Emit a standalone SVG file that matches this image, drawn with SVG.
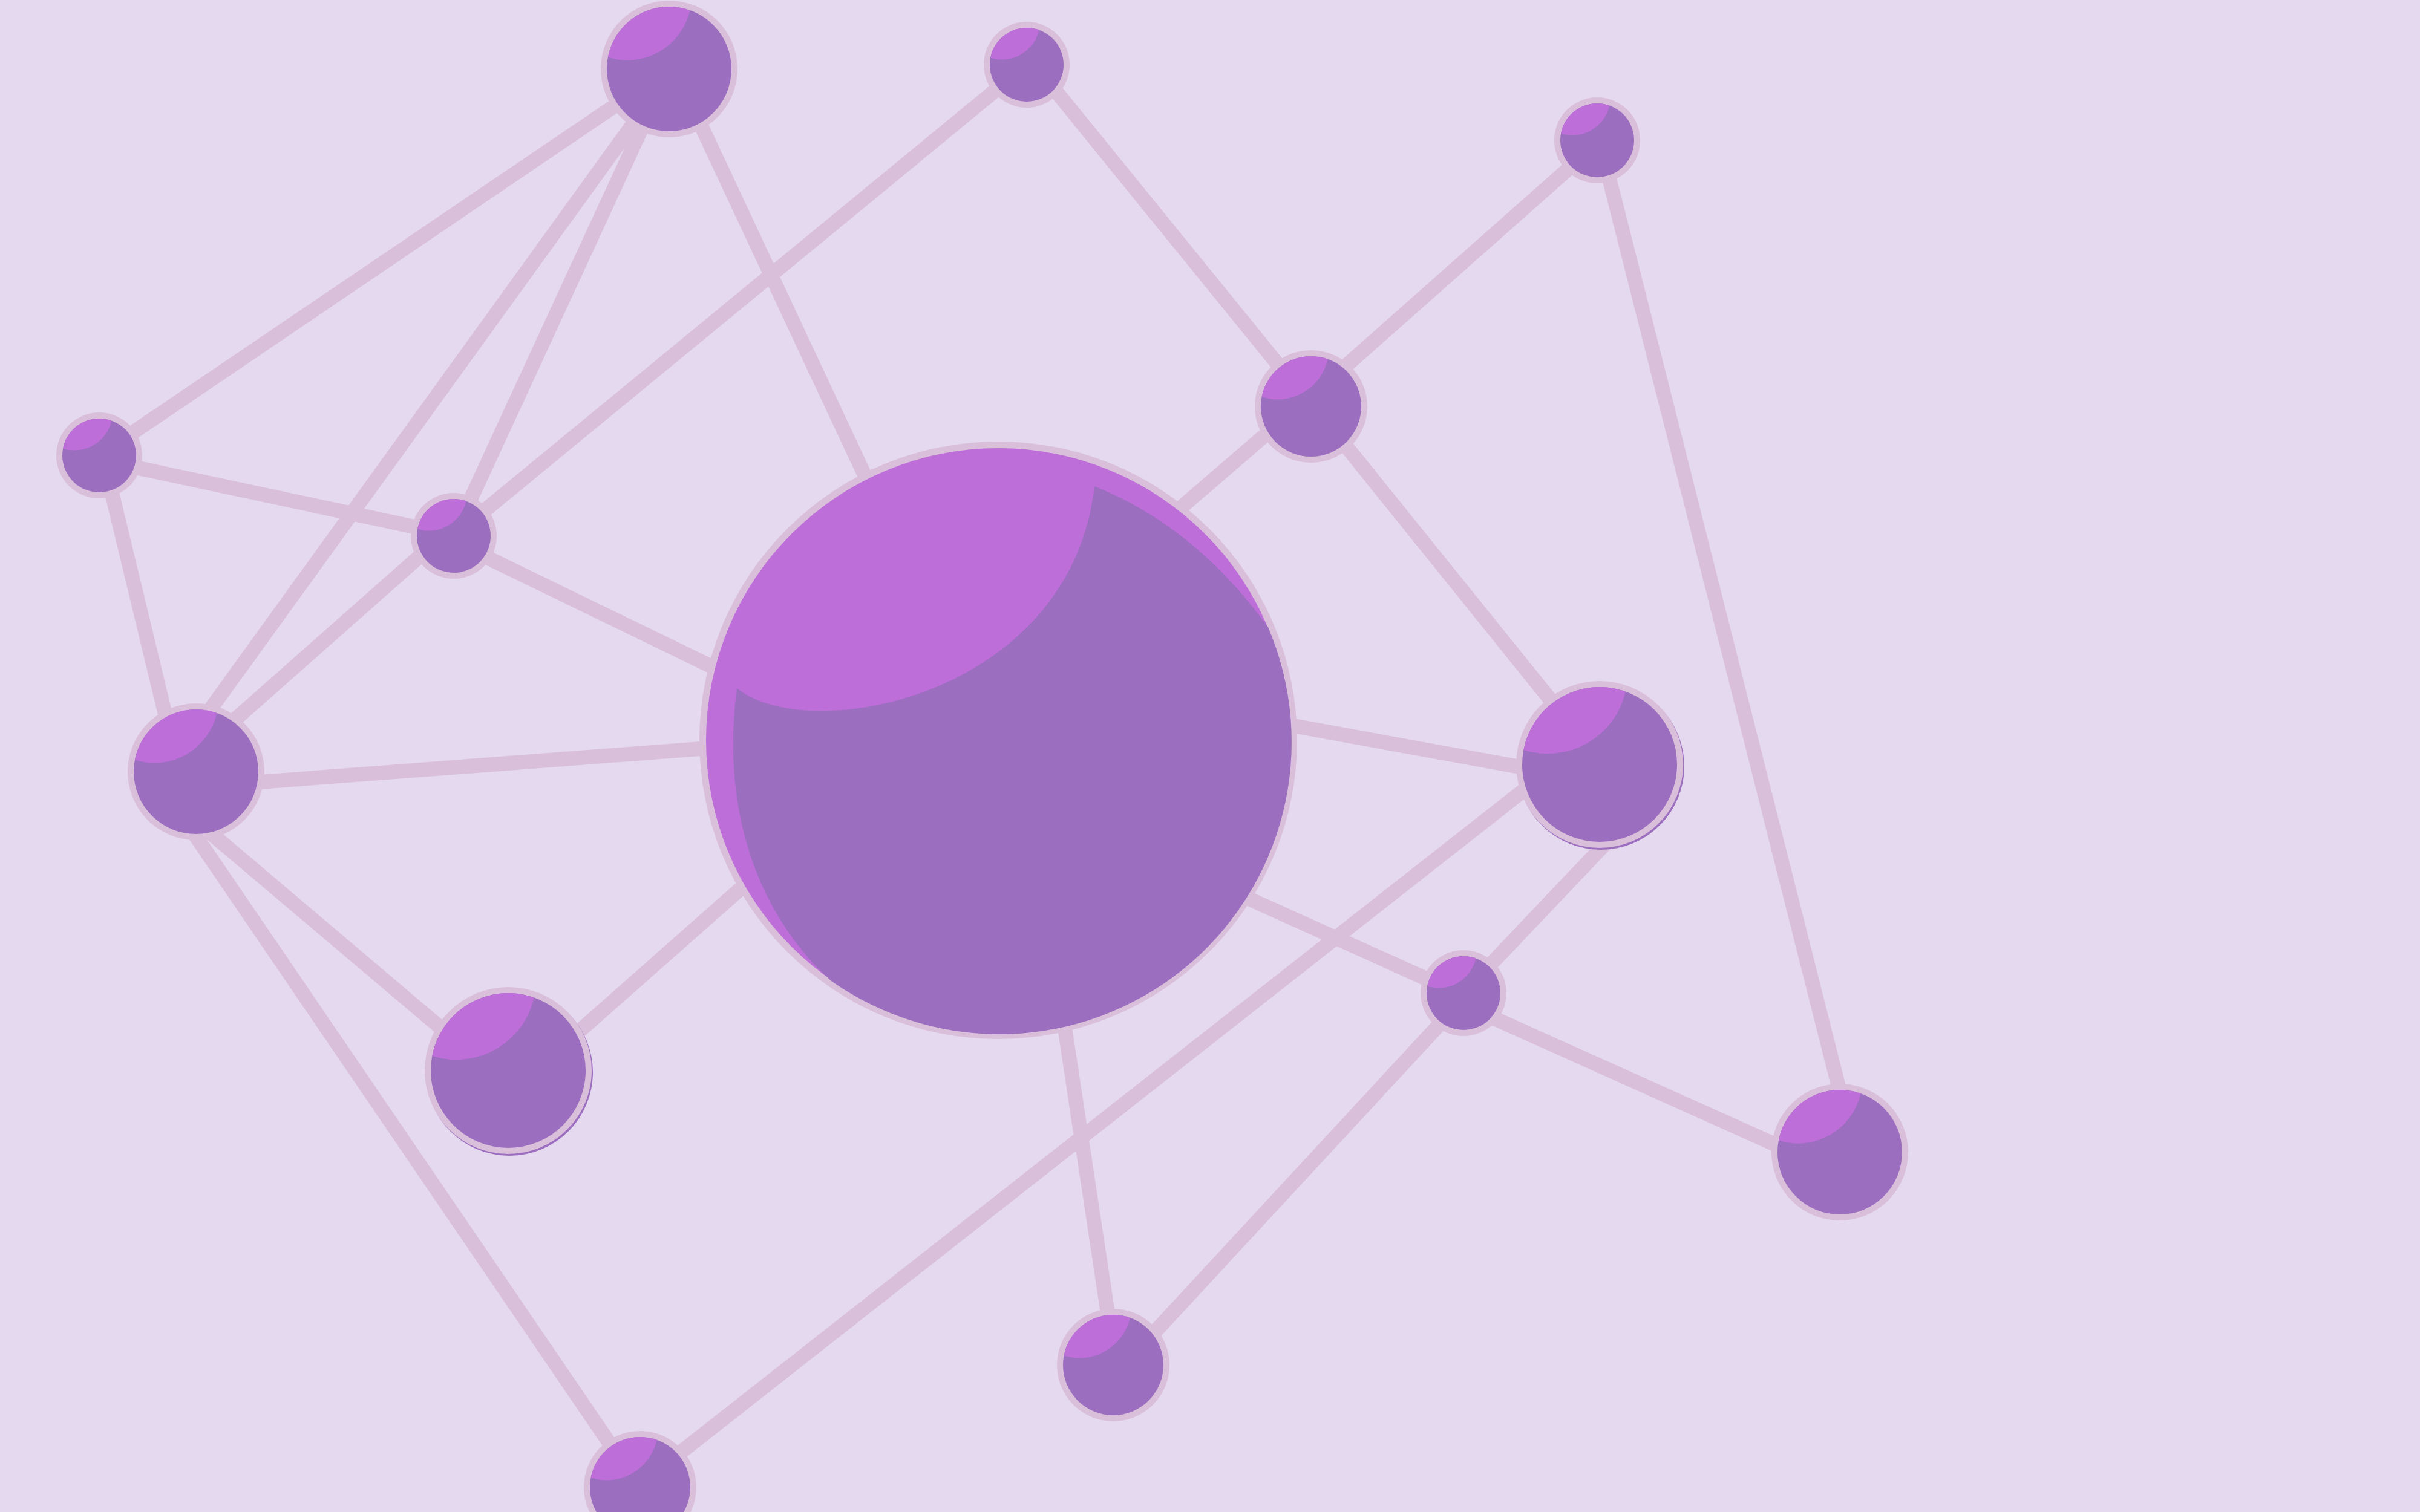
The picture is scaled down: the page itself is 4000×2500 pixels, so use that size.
<svg xmlns="http://www.w3.org/2000/svg" xmlns:xlink="http://www.w3.org/1999/xlink" width="4000" height="2500" viewBox="0 0 4000 2500">
<style>
.bg{fill:#e5d9ef}
.edge{stroke:#d9bfda;stroke-width:24;fill:none;stroke-linecap:butt}
.ring{fill:#d9bfda}
.body{fill:#9c6ec0}
.hl{fill:#be6ed9}
.shadow{fill:#9c6ec0}
</style>
<defs>
<g id="orb">
<circle class="body" r="1"/>
<path class="hl" d="M-0.9821 -0.1884 A1 1 0 0 1 0.3345 -0.9424 A1.03 1.03 0 0 1 -0.9821 -0.1884Z"/>
</g>
</defs>
<rect class="bg" x="0" y="0" width="4000" height="2500"/>
<g id="connectors">
<line class="edge" x1="1106" y1="114" x2="164" y2="753"/>
<line class="edge" x1="1086" y1="150" x2="328" y2="1200"/>
<line class="edge" x1="1106" y1="114" x2="750" y2="886"/>
<line class="edge" x1="1115" y1="114" x2="1450" y2="830"/>
<line class="edge" x1="1697" y1="107" x2="750" y2="886"/>
<line class="edge" x1="1700" y1="95" x2="2167" y2="670"/>
<line class="edge" x1="2640" y1="237" x2="2167" y2="656"/>
<line class="edge" x1="2644" y1="232" x2="3055" y2="1860"/>
<line class="edge" x1="2167" y1="654" x2="1900" y2="884"/>
<line class="edge" x1="2172" y1="672" x2="2644" y2="1258"/>
<line class="edge" x1="164" y1="760" x2="750" y2="885"/>
<line class="edge" x1="170" y1="753" x2="296" y2="1276"/>
<line class="edge" x1="750" y1="870" x2="370" y2="1206"/>
<line class="edge" x1="750" y1="895" x2="1250" y2="1138"/>
<line class="edge" x1="324" y1="1301" x2="1250" y2="1231"/>
<line class="edge" x1="324" y1="1357" x2="840" y2="1794"/>
<line class="edge" x1="251" y1="1276" x2="1057" y2="2459"/>
<line class="edge" x1="850" y1="1800" x2="1280" y2="1420"/>
<line class="edge" x1="2000" y1="1175" x2="2600" y2="1284"/>
<line class="edge" x1="2000" y1="1457" x2="2419" y2="1646"/>
<line class="edge" x1="2560" y1="1274" x2="1058" y2="2454"/>
<line class="edge" x1="2700" y1="1346" x2="2419" y2="1642"/>
<line class="edge" x1="2419" y1="1661" x2="3000" y2="1922"/>
<line class="edge" x1="2419" y1="1651" x2="1860" y2="2255"/>
<line class="edge" x1="1745" y1="1600" x2="1844" y2="2257"/>
</g>
<g id="n1"><circle class="ring" cx="1106" cy="114" r="113"/><use xlink:href="#orb" transform="translate(1106 114) scale(103)"/></g>
<g id="n2"><circle class="ring" cx="1697" cy="107" r="71"/><use xlink:href="#orb" transform="translate(1697 107) scale(61)"/></g>
<g id="n3"><circle class="ring" cx="2640" cy="232" r="71"/><use xlink:href="#orb" transform="translate(2640 232) scale(61)"/></g>
<g id="n4"><circle class="ring" cx="164" cy="753" r="71"/><use xlink:href="#orb" transform="translate(164 753) scale(61)"/></g>
<g id="n5"><circle class="ring" cx="750" cy="886" r="71"/><use xlink:href="#orb" transform="translate(750 886) scale(61)"/></g>
<g id="n6"><circle class="ring" cx="2167" cy="672" r="93"/><use xlink:href="#orb" transform="translate(2167 672) scale(83)"/></g>
<g id="n7"><circle class="ring" cx="324" cy="1276" r="113"/><use xlink:href="#orb" transform="translate(324 1276) scale(103)"/></g>
<g id="n8">
<circle class="ring" cx="1650" cy="1224" r="494"/>
<circle class="hl" cx="1650" cy="1224" r="483"/>
<path class="body" d="M1218,1138 C1340,1235 1770,1150 1809,804 Q1975,870 2096,1037 A483,483 0 0 1 1374,1622 C1260,1520 1190,1350 1218,1138 Z"/>
</g>
<g id="n9"><circle class="shadow" cx="2646" cy="1267" r="138"/><circle class="ring" cx="2644" cy="1264" r="138"/><use xlink:href="#orb" transform="translate(2644 1264) scale(128)"/></g>
<g id="n10"><circle class="shadow" cx="842" cy="1773" r="138"/><circle class="ring" cx="840" cy="1770" r="138"/><use xlink:href="#orb" transform="translate(840 1770) scale(128)"/></g>
<g id="n11"><circle class="ring" cx="2419" cy="1642" r="71"/><use xlink:href="#orb" transform="translate(2419 1642) scale(61)"/></g>
<g id="n12"><circle class="ring" cx="3041" cy="1905" r="113"/><use xlink:href="#orb" transform="translate(3041 1905) scale(103)"/></g>
<g id="n13"><circle class="ring" cx="1840" cy="2257" r="93"/><use xlink:href="#orb" transform="translate(1840 2257) scale(83)"/></g>
<g id="n14"><circle class="ring" cx="1058" cy="2459" r="93"/><use xlink:href="#orb" transform="translate(1058 2459) scale(83)"/></g>
</svg>
